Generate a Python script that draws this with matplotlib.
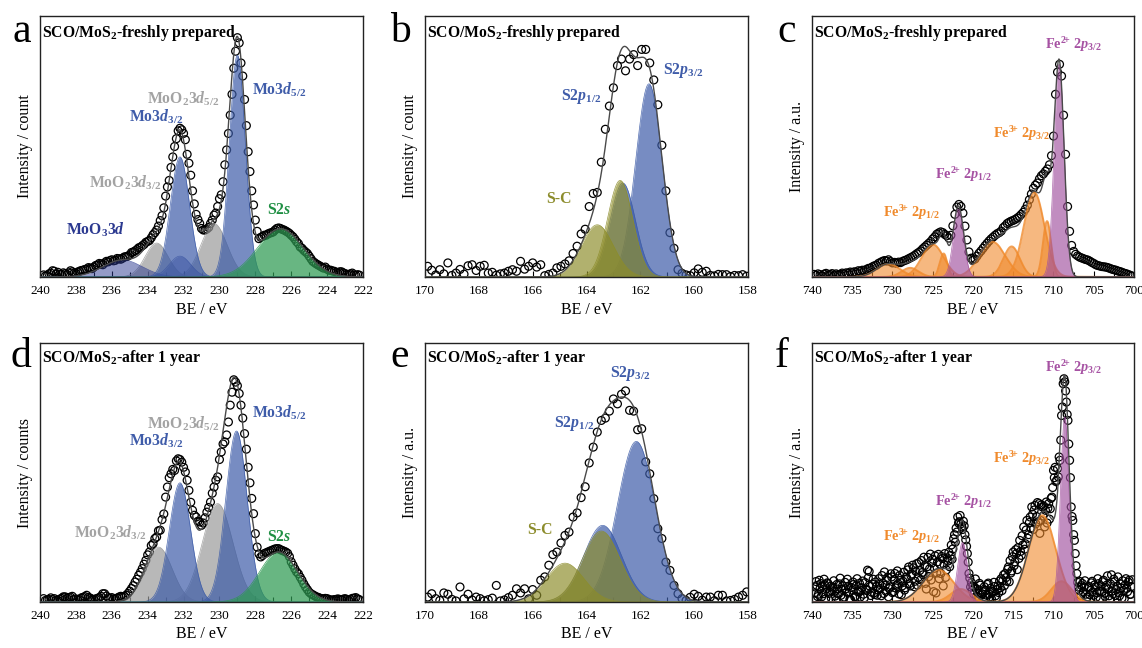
import numpy as np
import matplotlib
matplotlib.use("Agg")
import matplotlib.pyplot as plt
from matplotlib.ticker import MultipleLocator

plt.rcParams["font.family"] = "Liberation Serif"
plt.rcParams["mathtext.fontset"] = "custom"
plt.rcParams["mathtext.rm"] = "Liberation Serif"
plt.rcParams["mathtext.it"] = "Liberation Serif:italic"
plt.rcParams["mathtext.bf"] = "Liberation Serif:bold"
plt.rcParams["mathtext.bfit"] = "Liberation Serif:italic:bold"

# measured spectra: first BE, step (eV) and intensities on a 0-100 scale
mo_fresh_be0, mo_fresh_step = 239.8, 0.1
mo_fresh = [
    0.8, 0.4, 0.5, 1.2, 1.5, 2.4, 2.2, 1.1, 1.8, 1.0,
    1.0, 1.6, 1.3, 0.9, 1.6, 2.4, 2.0, 1.5, 1.4, 1.9,
    2.2, 2.5, 2.6, 2.9, 3.0, 3.6, 3.4, 3.2, 3.8, 4.4,
    4.6, 5.2, 5.0, 4.7, 5.4, 6.0, 5.8, 6.3, 6.6, 6.2,
    6.4, 7.1, 7.0, 6.8, 7.2, 7.7, 7.8, 8.0, 8.5, 9.4,
    9.6, 10.0, 10.5, 11.2, 11.4, 12.0, 12.5, 13.3, 13.6, 14.0,
    15.0, 16.2, 17.0, 18.0, 19.5, 21.6, 23.5, 26.5, 31.0, 34.5,
    37.0, 42.0, 46.0, 50.0, 53.0, 56.0, 57.0, 56.4, 55.0, 52.6,
    47.0, 43.6, 39.0, 33.0, 28.0, 24.0, 22.0, 20.5, 18.6, 18.0,
    18.0, 18.4, 19.0, 20.5, 21.8, 23.7, 24.5, 27.0, 30.0, 31.5,
    36.5, 43.0, 48.7, 55.0, 62.0, 70.0, 80.0, 86.5, 91.7, 89.7,
    82.0, 77.0, 68.0, 58.0, 48.0, 40.4, 33.0, 27.6, 21.8, 17.5,
    14.7, 15.2, 15.5, 16.0, 16.0, 16.5, 16.8, 17.0, 17.3, 18.0,
    18.6, 18.8, 18.6, 18.2, 18.0, 17.6, 17.2, 16.7, 16.0, 15.4,
    14.5, 13.5, 12.8, 11.5, 11.0, 10.2, 9.6, 9.0, 8.0, 7.0,
    6.0, 5.5, 5.0, 4.6, 4.2, 3.8, 3.4, 3.8, 3.0, 2.6,
    2.6, 2.3, 2.2, 1.8, 1.5, 2.0, 2.0, 1.6, 1.3, 1.0,
    1.0, 1.2, 1.5, 0.8, 0.6, 0.9, 0.7,
]

mo_aged_be0, mo_aged_step = 239.8, 0.1
mo_aged = [
    1.3, 0.6, 0.8, 1.0, 1.6, 0.9, 1.3, 0.7, 0.6, 1.1,
    1.4, 2.0, 2.0, 1.5, 1.7, 1.9, 2.2, 1.0, 1.2, 0.8,
    0.9, 1.6, 1.8, 2.1, 2.6, 1.8, 1.5, 1.1, 0.9, 1.2,
    1.4, 1.7, 2.2, 3.2, 3.2, 2.3, 1.6, 1.4, 1.7, 1.2,
    1.1, 1.5, 1.9, 2.2, 2.0, 2.2, 2.6, 3.3, 4.2, 5.2,
    6.3, 7.7, 8.8, 10.3, 11.5, 12.9, 14.6, 16.1, 18.2, 19.3,
    21.8, 22.5, 24.5, 25.1, 27.5, 27.7, 31.8, 34.0, 40.5, 44.4,
    48.0, 49.5, 51.2, 50.8, 54.5, 55.3, 55.0, 54.0, 52.0, 50.2,
    47.0, 43.1, 38.5, 35.4, 33.5, 32.8, 31.2, 30.9, 29.6, 30.5,
    32.5, 34.7, 36.5, 38.6, 42.0, 44.4, 47.0, 48.3, 55.0, 57.9,
    61.0, 61.8, 64.5, 69.5, 76.0, 81.0, 85.8, 84.9, 83.5, 80.5,
    76.0, 71.0, 65.0, 59.0, 52.0, 46.0, 40.0, 34.1, 26.4, 21.2,
    18.6, 17.4, 18.0, 18.7, 19.0, 19.3, 19.6, 19.9, 20.2, 20.5,
    20.6, 20.6, 20.2, 19.9, 19.6, 19.3, 18.8, 17.5, 15.5, 14.2,
    12.8, 11.6, 10.9, 9.6, 8.4, 7.0, 5.8, 4.8, 3.8, 3.2,
    2.8, 2.4, 2.0, 1.8, 1.5, 1.3, 1.2, 1.4, 1.3, 1.0,
    0.7, 0.8, 0.9, 1.0, 1.2, 1.0, 0.8, 1.1, 1.3, 1.0,
    0.6, 1.0, 1.4, 1.5, 1.7, 1.2, 0.9,
]

s_fresh_be0, s_fresh_step = 169.9, 0.15
s_fresh = [
    4.1, 2.6, 0.8, 2.8, 1.2, 5.4, 0.6, 1.5, 2.9, 1.1,
    4.3, 4.7, 2.5, 4.1, 4.5, 1.5, 1.8, 0.7, 1.2, 1.5,
    2.2, 2.8, 2.2, 6.0, 3.0, 4.1, 5.4, 3.8, 4.7, 0.5,
    1.0, 1.5, 3.5, 4.1, 5.0, 6.2, 9.0, 11.8, 16.5, 18.3,
    27.0, 32.0, 32.4, 44.0, 56.6, 65.5, 72.5, 81.0, 83.5, 79.0,
    83.5, 85.2, 81.0, 87.2, 87.2, 82.0, 75.5, 66.0, 50.5, 33.0,
    17.0, 11.0, 2.8, 1.4, 0.8, 0.5, 1.6, 3.1, 1.8, 2.2,
    0.6, 0.4, 1.0, 0.9, 0.9, 0.2, 0.6, 0.5, 0.9, 0.3,
]

s_aged_be0, s_aged_step = 169.9, 0.15
s_aged = [
    1.9, 3.2, 1.3, 0.6, 3.5, 3.0, 1.0, 0.4, 5.8, 1.2,
    3.0, 0.8, 1.9, 1.3, 0.5, 0.9, 1.5, 6.4, 0.4, 0.8,
    1.7, 2.6, 5.1, 3.5, 5.1, 1.2, 4.8, 2.6, 8.4, 9.7,
    14.2, 18.3, 19.3, 22.8, 25.7, 27.0, 32.8, 34.4, 40.3, 44.5,
    53.7, 59.8, 65.6, 70.1, 71.0, 73.7, 78.4, 76.5, 80.2, 81.5,
    74.0, 73.7, 66.5, 66.9, 54.1, 49.5, 39.9, 28.3, 24.5, 15.4,
    12.2, 6.4, 3.2, 1.3, 0.6, 1.8, 3.0, 2.2, 0.7, 1.9,
    1.9, 0.5, 2.6, 2.6, 0.4, 0.6, 1.0, 1.9, 2.6, 3.9,
]

fe_fresh_be0, fe_fresh_step = 739.75, 0.25
fe_fresh = [
    1.0, 0.6, 1.2, 0.9, 0.5, 1.1, 1.4, 0.8,
    1.0, 1.3, 0.7, 1.2, 0.9, 1.0, 1.5, 1.2,
    1.6, 1.4, 1.9, 1.7, 2.0, 1.8, 2.4, 2.2,
    2.6, 2.5, 2.9, 3.3, 3.4, 3.9, 4.3, 4.5,
    5.2, 5.6, 6.0, 6.3, 6.1, 6.6, 5.9, 5.4,
    5.6, 5.2, 5.7, 5.5, 6.0, 6.3, 6.6, 7.0,
    7.4, 7.8, 8.3, 8.9, 9.4, 10.0, 10.8, 11.5,
    12.2, 12.9, 13.6, 14.6, 15.4, 16.4, 16.9, 17.3,
    17.0, 16.3, 15.8, 14.9, 16.0, 19.6, 24.0, 26.8,
    27.8, 27.0, 24.5, 19.5, 14.2, 9.6, 7.2, 6.5,
    6.9, 8.0, 9.1, 10.0, 11.0, 12.0, 12.9, 13.8,
    14.6, 15.3, 16.0, 16.6, 17.0, 17.6, 18.9, 19.6,
    20.5, 21.0, 21.4, 21.7, 22.1, 22.6, 23.2, 24.0,
    24.8, 26.0, 27.5, 29.6, 31.8, 34.0, 35.2, 36.0,
    37.6, 38.8, 39.5, 40.5, 41.4, 43.0, 46.5, 54.0,
    70.0, 78.5, 81.5, 77.0, 62.0, 47.0, 27.0, 17.5,
    12.1, 9.8, 8.7, 8.1, 7.6, 7.3, 7.0, 6.7,
    6.5, 6.1, 5.6, 5.2, 4.7, 4.4, 4.2, 4.0,
    3.9, 3.8, 3.6, 3.3, 3.0, 2.8, 2.6, 2.3,
    2.1, 1.8, 1.5, 1.3, 1.0, 0.7, 0.4,
]

fe_aged_be0, fe_aged_step = 739.8, 0.1
fe_aged = [
    0.6, 3.5, 5.8, 7.9, 6.4, 2.1, 3.0, 8.4, 5.2, 7.1,
    2.0, 6.2, 3.2, 8.8, 6.6, 1.2, 5.1, 7.4, 7.1, 3.3,
    3.9, 6.0, 1.5, 4.3, 5.8, 8.2, 4.2, 2.3, 0.8, 6.8,
    5.0, 3.1, 7.0, 9.2, 2.6, 4.9, 6.2, 1.4, 1.9, 7.6,
    5.1, 3.8, 8.8, 6.1, 3.5, 1.0, 0.9, 5.6, 4.5, 7.7,
    6.8, 2.0, 2.2, 6.3, 9.0, 3.9, 4.0, 7.2, 1.9, 4.4,
    5.5, 8.1, 3.0, 1.6, 7.5, 5.0, 4.5, 12.3, 9.4, 11.8,
    6.0, 2.5, 3.8, 6.9, 8.8, 3.5, 2.9, 7.7, 5.9, 2.6,
    4.6, 9.0, 6.8, 5.3, 2.4, 10.2, 7.3, 3.3, 11.6, 6.4,
    4.1, 8.3, 9.5, 2.0, 5.2, 5.8, 10.9, 9.7, 3.6, 4.0,
    8.7, 11.0, 5.4, 6.5, 12.0, 7.0, 3.1, 10.3, 8.4, 2.8,
    6.2, 8.0, 11.5, 4.6, 5.5, 9.6, 9.0, 12.4, 13.5, 7.1,
    6.2, 10.1, 10.8, 14.2, 13.2, 5.9, 8.0, 11.8, 14.8, 6.5,
    9.5, 15.2, 12.2, 8.6, 16.0, 11.4, 10.5, 17.3, 14.0, 7.2,
    5.0, 13.6, 17.2, 9.8, 12.8, 18.5, 8.5, 15.1, 16.5, 4.0,
    13.0, 17.8, 3.5, 11.2, 15.5, 18.4, 9.0, 14.6, 11.0, 17.6,
    16.8, 6.2, 14.5, 18.7, 9.5, 12.4, 17.0, 15.8, 19.2, 13.6,
    18.0, 22.0, 16.5, 20.5, 24.4, 26.0, 23.1, 28.5, 27.0, 32.8,
    30.5, 31.0, 33.4, 30.2, 29.0, 28.0, 31.2, 29.4, 26.0, 24.0,
    21.5, 18.7, 15.4, 11.0, 9.2, 5.8, 7.5, 4.5, 6.1, 3.0,
    5.6, 8.9, 2.1, 5.0, 3.4, 1.9, 7.2, 6.5, 2.6, 3.2,
    4.0, 0.8, 5.9, 4.5, 1.6, 2.6, 6.8, 7.3, 3.1, 2.0,
    5.3, 1.2, 4.1, 3.9, 7.6, 6.0, 2.4, 1.5, 4.8, 6.2,
    3.6, 8.1, 5.5, 9.0, 4.4, 8.2, 10.5, 6.3, 11.0, 9.4,
    8.0, 12.6, 13.5, 7.8, 16.0, 11.2, 12.0, 17.5, 19.3, 14.0,
    15.5, 20.2, 18.7, 12.5, 21.0, 16.8, 23.8, 19.5, 18.0, 25.6,
    22.0, 29.0, 20.4, 22.5, 27.8, 31.5, 24.6, 26.0, 30.7, 32.8,
    28.5, 36.7, 33.9, 28.0, 35.5, 37.3, 30.2, 33.0, 38.4, 31.0,
    38.0, 26.5, 31.5, 37.5, 36.7, 33.2, 37.0, 29.0, 35.4, 38.6,
    30.5, 36.2, 38.0, 32.0, 36.0, 40.0, 40.5, 44.2, 50.8, 48.0,
    52.0, 46.5, 47.0, 51.5, 48.3, 56.0, 54.7, 62.5, 72.0, 75.3,
    84.3, 86.2, 85.0, 81.5, 77.2, 72.4, 70.1, 61.0, 54.7, 48.0,
    36.7, 33.0, 31.5, 26.0, 23.8, 18.7, 14.0, 11.0, 7.6, 5.8,
    4.5, 7.9, 2.5, 6.3, 7.1, 3.8, 5.8, 8.2, 3.0, 1.2,
    1.9, 5.5, 6.0, 2.8, 4.5, 7.4, 8.0, 3.9, 2.6, 6.6,
    5.8, 1.8, 3.5, 9.0, 7.1, 4.1, 1.5, 6.2, 4.0, 7.8,
    8.4, 3.4, 2.2, 5.7, 6.5, 10.1, 5.0, 2.4, 1.0, 6.9,
    10.5, 4.2, 3.2, 8.8, 7.9, 2.5, 4.8, 6.0, 9.7, 3.6,
    2.4, 7.0, 5.5, 1.5, 8.2, 4.4, 1.3, 6.6, 9.0, 5.2,
    4.0, 7.7, 8.4, 2.9, 3.0, 6.0, 8.6,
]

# fitted components: (species, centre / eV, height, FWHM / eV), in drawing order
mo_fresh_fit = [
    ("MoO2", 233.5, 13.0, 1.5), ("MoO2", 230.3, 20.5, 1.7),
    ("MoO3", 235.4, 6.5, 2.6), ("MoO3", 232.2, 8.0, 1.4),
    ("MoS2", 232.2, 46.0, 1.25), ("MoS2", 229.0, 85.0, 1.05),
    ("S2s", 226.6, 18.5, 3.0),
]
mo_aged_fit = [
    ("MoO2", 233.4, 21.2, 1.8), ("MoO2", 230.1, 38.0, 2.0),
    ("MoS2", 232.2, 46.0, 1.4), ("MoS2", 229.05, 66.0, 1.4),
    ("S2s", 226.7, 19.3, 2.5),
]
s_fresh_fit = [
    ("S2p", 162.65, 36.0, 1.1), ("S2p", 161.68, 74.0, 1.15),
    ("S-C", 163.6, 20.0, 1.4), ("S-C", 162.75, 37.0, 1.1),
]
s_aged_fit = [
    ("S2p", 163.4, 29.6, 1.65), ("S2p", 162.15, 62.0, 1.65),
    ("S-C", 164.8, 15.0, 1.65), ("S-C", 163.45, 27.4, 1.65),
]
fe_fresh_fit = [
    ("Fe3+", 730.5, 5.0, 3.4), ("Fe3+", 727.8, 3.5, 2.5),
    ("Fe3+", 725.0, 12.5, 3.2), ("Fe3+", 723.65, 9.0, 1.1),
    ("Fe3+", 717.6, 13.5, 3.8), ("Fe3+", 715.2, 11.7, 2.4),
    ("Fe3+", 712.4, 32.5, 3.0), ("Fe3+", 710.8, 21.4, 1.2),
    ("Fe2+", 721.8, 26.0, 1.5), ("Fe2+", 709.3, 81.5, 1.45),
]
fe_aged_fit = [
    ("Fe3+", 724.3, 12.5, 4.5), ("Fe3+", 721.5, 5.0, 3.0),
    ("Fe3+", 711.4, 33.5, 4.0), ("Fe3+", 709.0, 8.0, 3.0),
    ("Fe2+", 721.3, 23.0, 1.4), ("Fe2+", 708.6, 71.4, 1.25),
]

# species -> (fill colour, text colour, alpha, edge width)
styles = {
    "MoS2": ("#3d5ca8", "#3f5ca9", 0.70, 0.5),
    "MoO2": ("#9a9a9a", "#a3a3a3", 0.70, 0.5),
    "MoO3": ("#2b3990", "#2b3990", 0.50, 0.5),
    "S2s": ("#2e9a52", "#1f8f43", 0.72, 0.5),
    "S2p": ("#3d5ca8", "#3f5ca9", 0.70, 0.5),
    "S-C": ("#8c8c2a", "#8c8c2c", 0.68, 0.5),
    "Fe2+": ("#a0509e", "#a652a3", 0.65, 0.5),
    "Fe3+": ("#f08a2c", "#f08a2c", 0.60, 1.4),
}

FE2 = r"Fe$^{\mathbf{2}\!\mathbf{+}}$ 2$\mathbfit{p}"
FE3 = r"Fe$^{\mathbf{3}\!\mathbf{+}}$ 2$\mathbfit{p}"

mo_fresh_labels = [
    ("MoS2", r"Mo3$\mathbfit{d}_{\mathbf{5/2}}$", 228.2, 71.8),
    ("MoO2", r"MoO$_\mathbf{2}$3$\mathbfit{d}_{\mathbf{5/2}}$", 234.03, 68.2),
    ("MoS2", r"Mo3$\mathbfit{d}_{\mathbf{3/2}}$", 235.05, 61.3),
    ("MoO2", r"MoO$_\mathbf{2}$3$\mathbfit{d}_{\mathbf{3/2}}$", 237.27, 36.2),
    ("MoO3", r"MoO$_\mathbf{3}$3$\mathbfit{d}$", 238.57, 17.9),
    ("S2s", r"S2$\mathbfit{s}$", 227.35, 25.6),
]
mo_aged_labels = [
    ("MoS2", r"Mo3$\mathbfit{d}_{\mathbf{5/2}}$", 228.2, 73.0),
    ("MoO2", r"MoO$_\mathbf{2}$3$\mathbfit{d}_{\mathbf{5/2}}$", 234.03, 68.9),
    ("MoS2", r"Mo3$\mathbfit{d}_{\mathbf{3/2}}$", 235.05, 62.4),
    ("MoO2", r"MoO$_\mathbf{2}$3$\mathbfit{d}_{\mathbf{3/2}}$", 238.1, 26.8),
    ("S2s", r"S2$\mathbfit{s}$", 227.35, 25.1),
]
s_fresh_labels = [
    ("S2p", r"S2$\mathbfit{p}_{\mathbf{3/2}}$", 161.17, 79.3),
    ("S2p", r"S2$\mathbfit{p}_{\mathbf{1/2}}$", 164.94, 69.3),
    ("S-C", "S-C", 165.5, 29.7),
]
s_aged_labels = [
    ("S2p", r"S2$\mathbfit{p}_{\mathbf{3/2}}$", 163.13, 88.2),
    ("S2p", r"S2$\mathbfit{p}_{\mathbf{1/2}}$", 165.22, 68.9),
    ("S-C", "S-C", 166.21, 27.9),
]
fe_fresh_labels = [
    ("Fe2+", FE2 + r"_{\mathbf{3/2}}$", 711.05, 89.2),
    ("Fe3+", FE3 + r"_{\mathbf{3/2}}$", 717.46, 54.8),
    ("Fe2+", FE2 + r"_{\mathbf{1/2}}$", 724.78, 39.2),
    ("Fe3+", FE3 + r"_{\mathbf{1/2}}$", 731.19, 24.7),
]
fe_aged_labels = [
    ("Fe2+", FE2 + r"_{\mathbf{3/2}}$", 711.05, 90.5),
    ("Fe3+", FE3 + r"_{\mathbf{3/2}}$", 717.46, 55.3),
    ("Fe2+", FE2 + r"_{\mathbf{1/2}}$", 724.78, 38.6),
    ("Fe3+", FE3 + r"_{\mathbf{1/2}}$", 731.19, 25.1),
]

fresh_title = r"SCO/MoS$_\mathbf{2}$-freshly prepared"
aged_title = r"SCO/MoS$_\mathbf{2}$-after 1 year"


def gauss(x, c, h, w):
    return h * np.exp(-4 * np.log(2) * ((x - c) / w) ** 2)


def draw_panel(ax, be0, step, counts, fit, labels, xlim, major, minor,
               title, title_y, ylabel, label_size=11.3):
    be = be0 - step * np.arange(len(counts))
    ax.scatter(be, counts, s=32, facecolors="none", edgecolors="black",
               linewidths=0.9, zorder=1)

    xf = np.linspace(xlim[1], xlim[0], 2500)
    total = np.zeros_like(xf)
    for sp, c, h, w in fit:
        y = gauss(xf, c, h, w)
        total += y
        fc, _, a, ew = styles[sp]
        ax.fill_between(xf, 0, y, color=fc, alpha=a, lw=0, zorder=2)
        ax.plot(xf, y, color=fc, lw=ew, alpha=min(1, a + 0.2), zorder=2)
    ax.plot(xf, total, color="#4a4a4a", lw=1.0, zorder=3)

    for sp, txt, x, y in labels:
        ax.text(x, y, txt, color=styles[sp][1], fontsize=label_size,
                fontweight="bold", ha="left", va="center", zorder=4)
    ax.text(0.006, title_y, title, transform=ax.transAxes, fontsize=11.3,
            fontweight="bold", ha="left", va="center", zorder=4)

    ax.set_xlim(*xlim)
    ax.set_ylim(0, 100)
    ax.set_yticks([])
    ax.xaxis.set_major_locator(MultipleLocator(major))
    ax.xaxis.set_minor_locator(MultipleLocator(minor))
    ax.tick_params(axis="x", which="both", direction="in", top=False,
                   labelsize=9.5, pad=6, width=0.8)
    ax.tick_params(axis="x", which="major", length=4)
    ax.tick_params(axis="x", which="minor", length=3.5)
    for s in ax.spines.values():
        s.set_linewidth(1.0)
        s.set_color("#222222")
    ax.set_xlabel("BE / eV", fontsize=11.5, labelpad=3)
    ax.set_ylabel(ylabel, fontsize=11.5, labelpad=5)


fig = plt.figure(figsize=(11.42, 6.48), dpi=100)
W, H = 1142, 648


def add_axes(left, top, width, height):
    return fig.add_axes([left / W, 1 - (top + height) / H, width / W, height / H])


ax_a = add_axes(40, 16, 323, 261)
ax_b = add_axes(425, 16, 323, 261)
ax_c = add_axes(812, 16, 322, 261)
ax_d = add_axes(40, 343, 323, 259)
ax_e = add_axes(425, 343, 323, 259)
ax_f = add_axes(812, 343, 322, 259)

draw_panel(ax_a, mo_fresh_be0, mo_fresh_step, mo_fresh, mo_fresh_fit,
           mo_fresh_labels, (240, 222), 2, 1, fresh_title, 0.935,
           "Intensity / count")
draw_panel(ax_b, s_fresh_be0, s_fresh_step, s_fresh, s_fresh_fit,
           s_fresh_labels, (170, 158), 2, 1, fresh_title, 0.935,
           "Intensity / count")
draw_panel(ax_c, fe_fresh_be0, fe_fresh_step, fe_fresh, fe_fresh_fit,
           fe_fresh_labels, (740, 700), 5, 2.5, fresh_title, 0.935,
           "Intensity / a.u.", label_size=10.3)
draw_panel(ax_d, mo_aged_be0, mo_aged_step, mo_aged, mo_aged_fit,
           mo_aged_labels, (240, 222), 2, 1, aged_title, 0.942,
           "Intensity / counts")
draw_panel(ax_e, s_aged_be0, s_aged_step, s_aged, s_aged_fit,
           s_aged_labels, (170, 158), 2, 1, aged_title, 0.942,
           "Intensity / a.u.")
draw_panel(ax_f, fe_aged_be0, fe_aged_step, fe_aged, fe_aged_fit,
           fe_aged_labels, (740, 700), 5, 2.5, aged_title, 0.942,
           "Intensity / a.u.", label_size=10.3)

# panel letters
for letter, x, y in [("a", 12, 42), ("b", 390, 42), ("c", 777, 42),
                     ("d", 10, 367), ("e", 390, 367), ("f", 775, 367)]:
    fig.text(x / W, 1 - y / H, letter, fontsize=30, ha="left", va="baseline")

fig.savefig("out.png", dpi=100)
